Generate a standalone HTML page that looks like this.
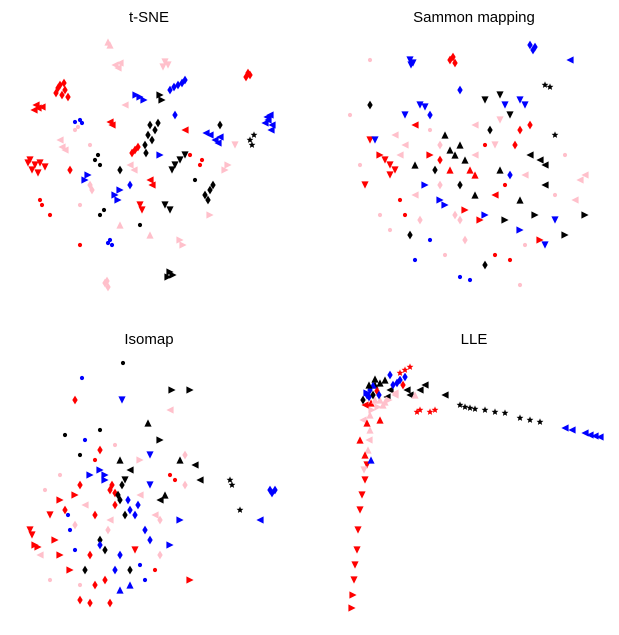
<!DOCTYPE html>
<html><head><meta charset="utf-8">
<style>
html,body{margin:0;padding:0;background:#fff;}
svg{display:block;font-family:"Liberation Sans",sans-serif;}
</style></head>
<body>
<svg id="chart" width="619" height="635" viewBox="0 0 619 635"></svg>
<script>
// colours: 0 red,1 pink,2 blue,3 black ; markers: 0 left,1 right,2 up,3 down,4 diamond,5 dot,6 star
const colorNames = ["red","pink","blue","black"];
const panelTitles = ["t-SNE","Sammon mapping","Isomap","LLE"];
const tsnePoints = [
[40,50,0,4],[45,55,0,4],[48,62,0,4],[42,60,0,4],[38,53,0,4],[18,73,0,0],[16,70,0,0],[22,72,0,0],
[10,125,0,3],[15,130,0,3],[20,128,0,3],[12,135,0,3],[25,132,0,3],[228,38,0,4],[230,40,0,4],
[88,7,1,2],[95,30,1,0],[100,28,1,0],[145,27,1,3],[143,32,1,3],[116,60,2,1],[120,62,2,1],
[150,55,2,4],[158,50,2,4],[165,45,2,4],[248,85,2,0],[250,80,2,0],[252,90,2,0],[245,88,2,0],
[190,100,2,0],[195,105,2,0],[200,102,2,0],[130,90,3,4],[128,100,3,4],[135,95,3,4],[125,110,3,4],
[160,125,3,3],[155,130,3,3],[230,105,3,6],[232,110,3,6],[190,155,3,4],[185,160,3,4],
[150,237,3,1],[153,240,3,1],[60,210,0,5],[90,205,2,5],[92,210,2,5],[85,248,1,4],[88,252,1,4],
[20,165,0,5],[100,155,2,1],[95,160,2,1],[75,125,3,5],[80,130,3,5],[40,105,1,0],[45,115,1,0],
[160,205,1,1],[190,180,1,1],[115,115,0,4],[112,118,0,4],[205,135,1,1],[80,180,3,5],[130,145,0,0],
[55,95,1,5],[60,85,2,5],[55,87,2,5],[90,87,0,0],[145,170,3,3],[180,130,0,5],[155,80,2,4],
[65,145,2,1],[70,150,1,4],[120,170,0,3],[110,130,1,0],[140,60,3,1],[170,120,0,5],[100,190,1,2],
[44,48,0,4],[36,58,0,4],[14,75,0,0],[8,128,0,3],[18,138,0,3],[226,42,0,4],[90,10,1,2],[98,33,1,0],
[148,30,1,3],[124,65,2,1],[162,48,2,4],[154,52,2,4],[247,82,2,0],[251,95,2,0],[186,98,2,0],
[198,108,2,0],[132,105,3,4],[138,88,3,4],[126,118,3,4],[165,120,3,3],[152,135,3,3],[234,100,3,6],
[193,150,3,4],[188,165,3,4],[148,242,3,1],[88,208,2,5],[87,246,1,4],[22,170,0,5],[98,165,2,1],
[78,120,3,5],[42,112,1,0],[163,210,1,1],[118,112,0,4],[208,130,1,1],[84,175,3,5],[132,150,0,0],
[58,92,1,5],[62,88,2,5],[92,90,0,0],[150,175,3,3],[182,125,0,5],[68,140,2,1],[72,155,1,4],
[122,175,0,3],[114,135,1,0],[142,65,3,1],[110,150,2,4],[100,135,3,4],[175,145,3,5],[30,180,0,5],
[70,110,1,5],[130,200,1,2],[200,90,3,4],[215,110,1,3],[105,70,1,0],[60,170,1,5],[140,120,2,1],
[165,95,0,0],[120,190,3,5],[50,135,0,4]
];
const sammonPoints = [
[65,25,2,3],[66,30,2,3],[185,10,2,4],[190,12,2,4],[105,25,0,4],[110,28,0,4],[200,50,3,6],[205,52,3,6],
[225,25,2,0],[25,25,1,5],[25,70,3,4],[40,125,0,3],[45,130,0,3],[50,135,0,3],[105,115,3,2],[110,120,3,2],
[115,110,3,2],[125,135,0,2],[130,140,0,2],[75,70,2,3],[80,72,2,3],[85,95,1,5],[175,65,2,3],[180,70,2,3],
[155,60,3,3],[195,125,3,0],[200,130,3,0],[235,145,1,0],[240,140,1,0],[240,180,3,1],[220,200,3,1],
[200,210,2,3],[175,250,1,5],[125,245,2,5],[115,242,2,5],[70,225,2,5],[65,200,3,4],[95,165,2,1],
[100,170,2,1],[110,180,1,4],[115,185,1,4],[135,185,0,1],[175,165,3,2],[55,165,0,5],[35,180,1,5],
[25,105,0,3],[5,80,1,5],[30,105,2,3],[155,135,3,2],[175,95,0,4],[155,85,1,3],[140,65,3,3],
[115,55,2,4],[95,150,1,4],[150,220,0,5],[120,205,1,4],[90,135,3,4],[195,205,0,1],[175,195,2,1],
[160,185,3,1],[60,110,1,0],[140,110,0,5],[130,90,1,0],[165,140,2,4],[85,120,0,1],[70,160,1,0],[150,160,0,0],
[68,28,2,3],[108,22,0,4],[188,15,2,4],[60,80,2,3],[70,90,0,0],[50,100,1,0],[45,140,0,3],[35,120,0,1],
[100,100,3,2],[120,125,3,2],[105,135,0,2],[95,110,1,4],[85,80,2,4],[160,70,2,3],[165,80,3,3],
[145,95,3,4],[150,110,1,3],[170,110,0,4],[185,120,3,0],[180,140,1,0],[200,150,3,0],[210,160,1,5],
[190,180,3,1],[210,185,2,3],[180,210,1,5],[165,225,0,5],[140,230,3,4],[100,220,1,5],[85,205,2,5],
[75,185,1,4],[60,180,0,5],[45,195,1,5],[80,150,2,1],[130,160,3,2],[120,175,0,1],[140,180,2,1],
[160,150,0,5],[130,120,1,0],[115,150,3,4],[95,125,0,4],[70,130,3,2],[55,120,1,0],[185,90,0,4],
[210,100,3,6],[220,120,1,5],[230,165,1,0],[20,150,0,3],[15,130,1,5]
];
const isomapPoints = [
[103,8,3,5],[152,35,3,1],[170,35,3,1],[128,68,3,2],[55,45,0,4],[62,23,2,5],[102,45,2,3],[150,55,1,0],
[160,105,3,2],[165,100,1,4],[210,125,3,6],[212,130,3,6],[220,155,3,6],[250,135,2,4],[252,138,2,4],
[255,135,2,4],[240,165,2,0],[180,125,3,0],[80,115,2,1],[85,120,2,1],[90,135,0,4],[95,138,0,4],
[98,140,3,4],[100,145,3,4],[110,155,2,4],[115,160,2,4],[40,145,0,1],[25,135,1,5],[10,175,0,3],
[15,190,0,1],[18,192,0,1],[70,200,0,4],[80,185,3,4],[130,185,2,4],[160,165,2,1],[155,125,0,5],
[140,165,1,4],[140,145,3,0],[60,245,0,4],[70,248,0,4],[90,248,0,4],[75,230,0,4],[100,235,2,2],
[110,230,2,2],[125,225,2,5],[170,225,0,1],[135,215,0,5],[30,225,1,5],[50,215,0,1],[65,215,3,4],
[80,190,2,4],[120,105,1,1],[100,105,3,2],[75,105,0,5],[65,85,2,5],[45,80,3,5],[80,75,3,5],
[45,155,0,4],[55,170,1,4],[50,175,2,5],[105,125,3,3],[120,140,1,0],[130,130,2,3],[60,130,0,4],[90,165,1,0],
[85,125,2,1],[92,130,0,4],[102,130,3,4],[108,145,2,4],[95,150,0,4],[118,150,2,4],[105,160,3,4],
[88,175,1,4],[75,160,0,4],[65,150,1,0],[55,140,0,1],[48,160,2,5],[35,185,0,1],[85,195,3,4],
[100,200,2,4],[115,195,0,3],[125,175,2,4],[135,160,1,0],[145,140,3,2],[150,120,0,5],[165,130,1,4],
[175,110,3,0],[60,230,1,5],[85,225,0,4],[95,215,2,4],[110,215,3,4],[120,210,2,5],[140,200,1,4],
[150,190,2,1],[60,100,3,5],[70,120,2,1],[80,95,0,4],[95,90,1,5],[110,115,3,0],[130,100,2,3],
[140,85,3,1],[40,120,1,5],[30,160,0,3],[12,180,0,3],[20,200,1,0],[40,200,0,1],[55,195,2,5]
];
const llePoints = [
[30,30,3,2],[35,28,3,2],[40,25,3,2],[25,35,2,4],[22,40,2,4],[55,25,2,4],[60,22,2,4],[60,15,0,6],
[65,12,0,6],[55,18,0,6],[75,35,3,0],[35,45,1,2],[40,47,1,2],[50,40,1,0],[65,40,3,0],[75,55,0,6],
[90,55,0,6],[115,50,3,6],[120,52,3,6],[125,53,3,6],[140,55,3,6],[160,58,3,6],[175,63,3,6],
[185,65,3,6],[195,67,3,6],[220,73,2,0],[240,78,2,0],[250,81,2,0],[255,82,2,0],[25,75,1,2],
[23,95,1,2],[22,110,0,3],[20,125,0,3],[17,140,0,3],[15,155,0,3],[13,175,0,3],[12,195,0,3],
[10,210,0,3],[9,225,0,3],[8,240,0,1],[7,253,0,1],[35,65,0,2],[27,55,1,1],[15,85,0,2],[22,38,2,1],
[28,40,3,4],[32,36,0,4],[20,50,0,0],[45,35,3,0],[18,65,1,0],[28,30,2,2],
[24,42,2,4],[26,48,0,2],[30,45,1,2],[33,52,1,1],[38,50,1,2],[42,42,3,0],[48,30,2,4],[52,28,2,4],
[58,30,0,4],[62,35,3,0],[70,40,1,2],[25,60,1,2],[22,68,0,2],[24,85,1,0],[20,100,0,2],[26,105,2,2],
[19,115,1,3],[24,30,3,2],[30,24,3,2],[45,20,2,4],[50,38,1,0],[18,45,3,4],[34,40,2,4],[44,45,1,1],
[80,30,3,0],[100,40,3,0],[85,57,0,6],[72,57,0,6],[130,54,3,6],[150,57,3,6],[227,75,2,0],[245,80,2,0]
];
const panelData = [tsnePoints, sammonPoints, isomapPoints, llePoints];
const panelBoxes = [[20,35],[345,35],[20,355],[345,355]]; // plot-area origins
const panelTitlePos = [[149,17],[474,17],[149,339],[474,339]];
const NS = "http://www.w3.org/2000/svg";
const svg = document.getElementById("chart");
function sx(p,v){ return panelBoxes[p][0] + v; }
function sy(p,v){ return panelBoxes[p][1] + v; }
function marker(m,x,y){
  const r=3.6;
  let el;
  if(m===5){ el=document.createElementNS(NS,"circle"); el.setAttribute("cx",x); el.setAttribute("cy",y); el.setAttribute("r",2.1); return el; }
  el=document.createElementNS(NS,"polygon");
  let pts;
  if(m===0) pts=[[x-r,y],[x+r,y-r],[x+r,y+r]];
  else if(m===1) pts=[[x+r,y],[x-r,y-r],[x-r,y+r]];
  else if(m===2) pts=[[x,y-r],[x-r,y+r],[x+r,y+r]];
  else if(m===3) pts=[[x,y+r],[x-r,y-r],[x+r,y-r]];
  else if(m===4) pts=[[x,y-r*1.2],[x+r*0.75,y],[x,y+r*1.2],[x-r*0.75,y]];
  else { pts=[]; for(let i=0;i<10;i++){const a=-Math.PI/2+i*Math.PI/5, rr=i%2?1.6:3.6; pts.push([x+rr*Math.cos(a),y+rr*Math.sin(a)]);} }
  el.setAttribute("points",pts.map(p=>p.join(",")).join(" "));
  return el;
}
panelTitles.forEach((t,p)=>{
  const g=document.createElementNS(NS,"g");
  
  
  svg.appendChild(g);
  const tx=document.createElementNS(NS,"text");
  
  
  tx.setAttribute("x",panelTitlePos[p][0]); tx.setAttribute("y",panelTitlePos[p][1]+5);
  tx.setAttribute("text-anchor","middle"); tx.setAttribute("font-size","15"); tx.setAttribute("fill","#000");
  tx.textContent=t; g.appendChild(tx);
  panelData[p].forEach(d=>{
    const el=marker(d[3],sx(p,d[0]),sy(p,d[1]));
    
    
    el.setAttribute("fill",colorNames[d[2]]);
    g.appendChild(el);
  });
});
</script>
</body></html>
